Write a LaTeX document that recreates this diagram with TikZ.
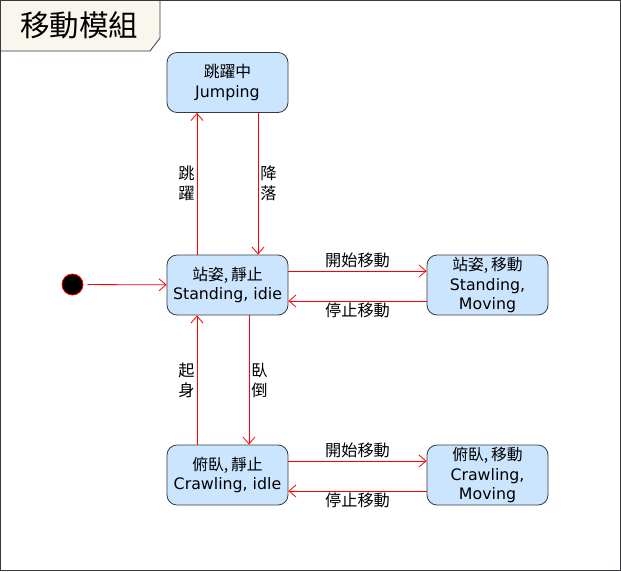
\documentclass[tikz,border=0pt]{standalone}
\usepackage{fontspec}
\setmainfont{DejaVu Sans}
\newfontfamily\cjk{Noto Sans CJK TC}
\usetikzlibrary{arrows.meta,positioning,calc}
\definecolor{statefill}{HTML}{CCE5FF}
\definecolor{stateline}{HTML}{36393D}
\definecolor{tabfill}{HTML}{F9F7ED}
\begin{document}
\begin{tikzpicture}[x=1pt, y=-1pt,
        state/.style={rectangle, draw=stateline, fill=statefill, line width=0.8pt,
            rounded corners=10pt, minimum width=121pt, minimum height=60pt,
            align=center, inner sep=1pt, font=\fontsize{15.8}{19.5}\selectfont},
        init/.style={circle, draw=red, fill=black, line width=0.8pt,
            minimum size=21pt, inner sep=0pt},
        trans/.style={draw=red, line width=0.8pt,
            -{Straight Barb[length=7pt, width=12pt]}},
        lbl/.style={font=\cjk\fontsize{16.2}{20}\selectfont, align=center,
            inner sep=2pt},
    ]
        \useasboundingbox (0,0) rectangle (621,571);

        % Frame and title tab
        \draw[stateline, line width=0.8pt] (0.5,0.5) rectangle (620.5,570.5);
        \draw[stateline, fill=tabfill, line width=0.8pt]
            (0.5,0.5) -- (160,0.5) -- (160,38) -- (150,51) -- (0.5,51) -- cycle;
        \node[font=\cjk\fontsize{29.5}{32}\selectfont] (title) at (79,25) {移動模組};

        % States
        \node[state] (jump) at (227.5,82.5) {{\cjk 跳躍中}\\Jumping};
        \node[state] (stand) at (227.5,285) {{\cjk 站姿,\,靜止}\\Standing, idie};
        \node[state] (standmove) at (487.5,285) {{\cjk 站姿,\,移動}\\Standing,\\Moving};
        \node[state] (crawl) at (227.5,475) {{\cjk 俯臥,\,靜止}\\Crawling, idle};
        \node[state] (crawlmove) at (487.5,475) {{\cjk 俯臥,\,移動}\\Crawling,\\Moving};

        % Initial state
        \node[init] (start) at (72.5,284.5) {};
        \draw[trans, shorten <=4pt] (start) -- (stand);

        % Jumping
        \draw[trans] ([xshift=-30.5pt]stand.north) -- node[lbl, left] {跳\\躍}
            ([xshift=-30.5pt]jump.south);
        \draw[trans] ([xshift=30.5pt]jump.south) -- node[lbl, right] {降\\落}
            ([xshift=30.5pt]stand.north);

        % Standing moves
        \draw[trans] ([yshift=14pt]stand.east) -- node[lbl, above, yshift=1pt] {開始移動}
            ([yshift=14pt]standmove.west);
        \draw[trans] ([yshift=-16pt]standmove.west) -- node[lbl, below, yshift=1pt] {停止移動}
            ([yshift=-16pt]stand.east);

        % Crawling
        \draw[trans] ([xshift=-30.5pt]crawl.north) -- node[lbl, left] {起\\身}
            ([xshift=-30.5pt]stand.south);
        \draw[trans] ([xshift=21.5pt]stand.south) -- node[lbl, right] {臥\\倒}
            ([xshift=21.5pt]crawl.north);

        % Crawling moves
        \draw[trans] ([yshift=14pt]crawl.east) -- node[lbl, above, yshift=1pt] {開始移動}
            ([yshift=14pt]crawlmove.west);
        \draw[trans] ([yshift=-16pt]crawlmove.west) -- node[lbl, below, yshift=1pt] {停止移動}
            ([yshift=-16pt]crawl.east);
    \end{tikzpicture}
\end{document}
